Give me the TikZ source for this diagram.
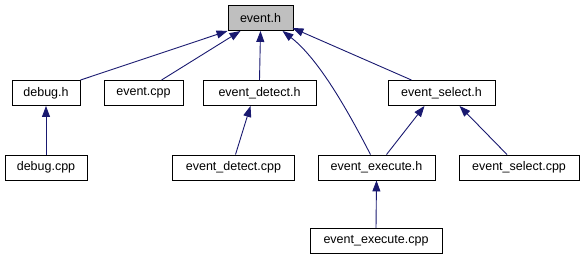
\documentclass[tikz,border=0pt]{standalone}
\usepackage{fontspec}
\setmainfont{Liberation Sans}
\usetikzlibrary{arrows.meta}
\definecolor{edgeblue}{HTML}{191970}
\definecolor{curgray}{HTML}{BFBFBF}
\tikzset{
    file/.style={draw=black, fill=white, line width=0.9pt, minimum height=25pt,
        inner sep=0pt, font=\fontsize{12.5}{15}\selectfont},
    dep/.style={draw=edgeblue, line width=0.9pt, -{Triangle[length=11pt,width=8pt]}}
}

\begin{document}
\begin{tikzpicture}[x=1pt, y=-1pt]
    \useasboundingbox (0,0) rectangle (585,261);

    \node[file, fill=curgray, minimum width=65pt] (evh) at (260.5,18) {event.h};

    \node[file, minimum width=68pt] (dbgh) at (46,93) {debug.h};
    \node[file, minimum width=79pt] (evcpp) at (143.5,93) {event.cpp};
    \node[file, minimum width=113pt] (deth) at (259.5,93) {event\_detect.h};
    \node[file, minimum width=107pt] (selh) at (441.5,93) {event\_select.h};

    \node[file, minimum width=82pt] (dbgcpp) at (46,167.5) {debug.cpp};
    \node[file, minimum width=122pt] (detcpp) at (233.5,167.5) {event\_detect.cpp};
    \node[file, minimum width=117pt] (exeh) at (376.5,167.5) {event\_execute.h};
    \node[file, minimum width=120pt] (selcpp) at (519,167.5) {event\_select.cpp};

    \node[file, minimum width=132pt] (execpp) at (376,241) {event\_execute.cpp};

    \draw[dep] (dbgh.north east) -- (evh.south west);
    \draw[dep] ([xshift=18pt]evcpp.north) -- ([xshift=-20pt]evh.south);
    \draw[dep] (deth.north) -- (evh.south);
    \draw[dep] ([xshift=-30pt]selh.north) -- ([xshift=-1pt,yshift=3pt]evh.south east);
    \draw[dep] ([xshift=-6pt]exeh.north) .. controls (350,115) and (320,60) .. ([xshift=22pt]evh.south);

    \draw[dep] (dbgcpp.north) -- (dbgh.south);
    \draw[dep] ([xshift=2pt]detcpp.north) -- ([xshift=-9pt]deth.south);
    \draw[dep] ([xshift=10pt]exeh.north) -- ([xshift=-17pt]selh.south);
    \draw[dep] ([xshift=-12pt]selcpp.north) -- ([xshift=18pt]selh.south);
    \draw[dep] (execpp.north) -- (exeh.south);
\end{tikzpicture}
\end{document}
